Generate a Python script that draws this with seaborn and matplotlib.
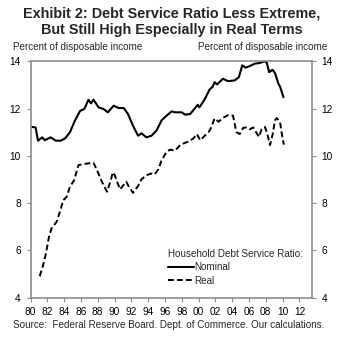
import matplotlib
matplotlib.use("Agg")
import matplotlib.pyplot as plt
import seaborn as sns
import pandas as pd
from matplotlib.lines import Line2D

# ---- data ----
nominal_years = [1980.0, 1980.6, 1980.9, 1981.4, 1981.7, 1982.4, 1983.0, 1983.6, 1984.1, 1984.7,
                 1985.3, 1985.9, 1986.4, 1986.9, 1987.2, 1987.5, 1988.1, 1988.7, 1989.2, 1989.9,
                 1990.5, 1991.1, 1991.6, 1992.2, 1992.8, 1993.2, 1993.8, 1994.4, 1995.0, 1995.6,
                 1996.2, 1996.8, 1997.2, 1998.0, 1998.4, 1999.0, 1999.5, 1999.9, 2000.1, 2000.7,
                 2001.3, 2001.7, 2001.9, 2002.2, 2002.9, 2003.5, 2004.3, 2004.8, 2005.2, 2005.6,
                 2006.1, 2006.7, 2007.3, 2007.8, 2008.1, 2008.4, 2008.8, 2009.1, 2009.5, 2009.7,
                 2010.1]
nominal_values = [11.23, 11.2, 10.64, 10.78, 10.66, 10.78, 10.64, 10.64, 10.73, 11.0,
                  11.5, 11.9, 11.98, 12.37, 12.22, 12.37, 12.05, 11.98, 11.84, 12.12,
                  12.02, 12.02, 11.77, 11.27, 10.85, 10.95, 10.78, 10.85, 11.07, 11.5,
                  11.7, 11.88, 11.84, 11.84, 11.74, 11.77, 11.98, 12.16, 12.05, 12.37,
                  12.8, 12.93, 13.12, 13.02, 13.26, 13.16, 13.19, 13.33, 13.83, 13.73,
                  13.8, 13.9, 13.93, 14.0, 13.96, 13.54, 13.64, 13.5, 13.05, 12.93,
                  12.48]

real_years = [1981.1, 1981.5, 1981.8, 1982.2, 1982.5, 1983.1, 1983.5, 1983.9, 1984.3, 1984.7,
              1985.2, 1985.7, 1986.3, 1986.9, 1987.5, 1987.9, 1988.5, 1989.1, 1989.5, 1989.8,
              1990.0, 1990.65, 1991.4, 1991.6, 1992.2, 1992.8, 1993.2, 1993.8, 1994.4, 1994.8,
              1995.2, 1995.6, 1996.2, 1996.6, 1997.2, 1997.8, 1998.4, 1998.8, 1999.4, 1999.8,
              2000.2, 2000.8, 2001.2, 2001.5, 2001.9, 2002.4, 2002.8, 2003.5, 2004.1, 2004.5,
              2004.9, 2005.3, 2005.7, 2006.1, 2006.5, 2006.8, 2007.2, 2007.5, 2007.9, 2008.2,
              2008.5, 2008.8, 2009.1, 2009.3, 2009.7, 2009.9, 2010.15]
real_values = [4.9, 5.37, 5.8, 6.57, 6.92, 7.2, 7.63, 8.12, 8.26, 8.69,
               8.97, 9.6, 9.65, 9.68, 9.7, 9.4, 8.9, 8.48, 8.9, 9.3,
               9.2, 8.58, 8.9, 8.76, 8.43, 8.72, 9.0, 9.18, 9.25, 9.22,
               9.42, 9.81, 10.17, 10.26, 10.22, 10.45, 10.55, 10.6, 10.74, 10.92,
               10.66, 10.87, 11.0, 11.2, 11.58, 11.44, 11.58, 11.72, 11.7, 11.0,
               10.92, 11.18, 11.2, 11.12, 11.2, 11.02, 10.8, 11.12, 11.22, 10.9,
               10.45, 10.88, 11.5, 11.6, 11.42, 10.95, 10.47]

x_ticks = list(range(1980, 2013, 2))
x_tick_labels = ["80", "82", "84", "86", "88", "90", "92", "94", "96", "98",
                 "00", "02", "04", "06", "08", "10", "12"]
y_ticks = [4, 6, 8, 10, 12, 14]

# ---- style ----
sns.set_theme(style="white")
plt.rcParams["font.family"] = ["Liberation Sans", "DejaVu Sans"]

fig = plt.figure(figsize=(3.5, 3.43), dpi=100)
ax = fig.add_axes([30.5 / 350, 1 - 297.5 / 343, (312 - 30.5) / 350, (297.5 - 61.3) / 343])

df_nom = pd.DataFrame({"year": nominal_years, "value": nominal_values})
df_real = pd.DataFrame({"year": real_years, "value": real_values})

sns.lineplot(data=df_nom, x="year", y="value", ax=ax, color="black", linewidth=1.5)
sns.lineplot(data=df_real, x="year", y="value", ax=ax, color="black", linewidth=1.4,
             linestyle=(0, (3, 1.6)))

ax.set_xlim(1980, 2013.5)
ax.set_ylim(4, 14)
ax.set_xticks(x_ticks)
ax.set_xticklabels(x_tick_labels)
ax.set_yticks(y_ticks)
ax.set_yticklabels([str(v) for v in y_ticks])
ax.set_xlabel("")
ax.set_ylabel("")

spine_color = "#8c8c8c"
for s in ax.spines.values():
    s.set_color(spine_color)
    s.set_linewidth(1.2)

ax.tick_params(axis="both", which="both", direction="out", length=3, width=0.8,
               color=spine_color, labelsize=7.3, colors="black")
ax.tick_params(axis="y", left=True, right=True, labelleft=True, labelright=True, pad=4)
ax.tick_params(axis="x", bottom=True, pad=4)

# legend
handles = [Line2D([0], [0], color="black", lw=1.5),
           Line2D([0], [0], color="black", lw=1.4, linestyle=(0, (3, 1.6)))]
leg = ax.legend(handles, ["Nominal", "Real"], title="Household Debt Service Ratio:",
                loc="upper left", bbox_to_anchor=((168 - 30.5) / (312 - 30.5), (297.5 - 249) / (297.5 - 61.3)),
                frameon=False, fontsize=7.1, title_fontsize=7.1, handlelength=2.6,
                handletextpad=0.1, borderpad=0, borderaxespad=0, labelspacing=0.35,
                alignment="left")

# titles
fig.text(0.489, 1 - 13 / 343, "Exhibit 2: Debt Service Ratio Less Extreme,", ha="center", va="center",
         fontsize=10.4, fontweight="bold")
fig.text(0.491, 1 - 30 / 343, "But Still High Especially in Real Terms", ha="center", va="center",
         fontsize=10.4, fontweight="bold")
fig.text(13 / 350, 1 - 47 / 343, "Percent of disposable income", ha="left", va="center", fontsize=7.1)
fig.text(327 / 350, 1 - 47 / 343, "Percent of disposable income", ha="right", va="center", fontsize=7.1)
fig.text(13 / 350, 1 - 325 / 343, "Source:  Federal Reserve Board. Dept. of Commerce. Our calculations.",
         ha="left", va="center", fontsize=7.1)

fig.savefig("out.png", dpi=100)
